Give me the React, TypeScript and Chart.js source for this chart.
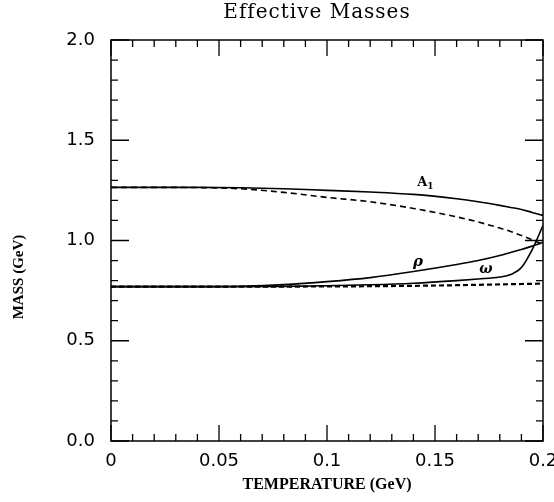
import React, { useEffect, useRef } from "react";
import { Chart, registerables } from "chart.js";

Chart.register(...registerables);

const temperature = [0, 0.02, 0.04, 0.06, 0.08, 0.1, 0.12, 0.14, 0.16, 0.17, 0.18, 0.185, 0.19, 0.195, 0.2];
const a1Solid = [1.265, 1.265, 1.265, 1.263, 1.258, 1.25, 1.242, 1.23, 1.208, 1.193, 1.175, 1.165, 1.155, 1.14, 1.125];
const a1Dashed = [1.265, 1.265, 1.264, 1.258, 1.24, 1.215, 1.193, 1.16, 1.118, 1.092, 1.062, 1.045, 1.025, 1.003, 0.98];
const rhoSolid = [0.77, 0.77, 0.77, 0.772, 0.78, 0.795, 0.815, 0.845, 0.88, 0.9, 0.925, 0.94, 0.955, 0.972, 0.99];
const omegaSolid = [0.77, 0.77, 0.77, 0.77, 0.771, 0.774, 0.779, 0.787, 0.8, 0.808, 0.818, 0.83, 0.865, 0.955, 1.075];
const lowDashed = [0.77, 0.77, 0.77, 0.77, 0.77, 0.771, 0.772, 0.774, 0.777, 0.779, 0.781, 0.782, 0.783, 0.784, 0.785];

const xTicks = [0, 0.05, 0.1, 0.15, 0.2];
const yTicks = [0, 0.5, 1.0, 1.5, 2.0];

const curveLabels = [
  { text: "A", sub: "1", x: 0.1418, y: 1.27, font: "bold 13px 'DejaVu Serif'" },
  { text: "ρ", sub: "", x: 0.1398, y: 0.875, font: "italic bold 15px 'DejaVu Serif'" },
  { text: "ω", sub: "", x: 0.1705, y: 0.84, font: "italic bold 14px 'DejaVu Serif'" },
];

const toPoints = (ys: number[]) => temperature.map((t, i) => ({ x: t, y: ys[i] }));

const framePlugin = {
  id: "frameTicks",
  afterDraw(chart: any) {
    const { ctx, chartArea: a, scales } = chart;
    const xs = scales.x;
    const ys = scales.y;
    ctx.save();
    ctx.strokeStyle = "#000";
    ctx.lineWidth = 1.5;
    ctx.strokeRect(a.left, a.top, a.right - a.left, a.bottom - a.top);
    ctx.lineWidth = 1.3;
    ctx.beginPath();
    for (let i = 0; i <= 20; i++) {
      const v = i * 0.01;
      const px = xs.getPixelForValue(v);
      const len = i % 5 === 0 ? 16 : 7;
      ctx.moveTo(px, a.bottom);
      ctx.lineTo(px, a.bottom - len);
      ctx.moveTo(px, a.top);
      ctx.lineTo(px, a.top + len);
    }
    for (let i = 0; i <= 20; i++) {
      const v = i * 0.1;
      const py = ys.getPixelForValue(v);
      const len = i % 5 === 0 ? 18 : 7;
      ctx.moveTo(a.left, py);
      ctx.lineTo(a.left + len, py);
      ctx.moveTo(a.right, py);
      ctx.lineTo(a.right - len, py);
    }
    ctx.stroke();

    // title
    ctx.fillStyle = "#000";
    ctx.font = "20px 'DejaVu Serif'";
    ctx.textAlign = "center";
    ctx.textBaseline = "middle";
    (ctx as any).letterSpacing = "1px";
    ctx.fillText("Effective Masses", 317, 13);
    (ctx as any).letterSpacing = "0px";

    // y axis title
    ctx.save();
    ctx.translate(19, 277);
    ctx.rotate(-Math.PI / 2);
    ctx.font = "bold 15px 'Liberation Serif'";
    ctx.fillText("MASS (GeV)", 0, 0);
    ctx.restore();

    // x axis title
    ctx.font = "bold 16px 'Liberation Serif'";
    ctx.fillText("TEMPERATURE (GeV)", (a.left + a.right) / 2, 485);

    // curve labels
    ctx.textAlign = "left";
    ctx.textBaseline = "alphabetic";
    for (const l of curveLabels) {
      const px = xs.getPixelForValue(l.x);
      const py = ys.getPixelForValue(l.y);
      ctx.font = l.font;
      ctx.fillText(l.text, px, py);
      if (l.sub) {
        const w = ctx.measureText(l.text).width;
        ctx.font = "bold 9px 'DejaVu Serif'";
        ctx.fillText(l.sub, px + w, py + 3);
      }
    }
    ctx.restore();
  },
};

export default function App() {
  const ref = useRef<HTMLCanvasElement | null>(null);
  useEffect(() => {
    if (!ref.current) return;
    const base = {
      borderColor: "#000",
      borderWidth: 1.6,
      pointRadius: 0,
      fill: false,
      cubicInterpolationMode: "monotone" as const,
    };
    const chart = new Chart(ref.current, {
      type: "line",
      data: {
        datasets: [
          { ...base, label: "A1", data: toPoints(a1Solid) },
          { ...base, label: "A1 dashed", data: toPoints(a1Dashed), borderDash: [6, 4] },
          { ...base, label: "rho", data: toPoints(rhoSolid) },
          { ...base, label: "omega", data: toPoints(omegaSolid) },
          { ...base, label: "low dashed", data: toPoints(lowDashed), borderDash: [5, 3], borderWidth: 2.2 },
        ],
      },
      options: {
        responsive: false,
        animation: false,
        devicePixelRatio: 1,
        layout: { padding: { top: 40, right: 11, left: 0, bottom: 0 } },
        plugins: { legend: { display: false }, tooltip: { enabled: false }, title: { display: false } },
        scales: {
          x: {
            type: "linear",
            min: 0,
            max: 0.2,
            afterBuildTicks: (s: any) => {
              s.ticks = xTicks.map((v) => ({ value: v }));
            },
            ticks: {
              color: "#000",
              font: { family: "'DejaVu Sans'", size: 18 },
              padding: 10,
              maxRotation: 0,
              autoSkip: false,
              callback: (v: any) => String(Number(Number(v).toFixed(2))),
            },
            grid: { display: false, drawTicks: false },
            border: { display: false },
            afterFit: (s: any) => {
              s.height = 61;
              s.paddingRight = 0;
              s.paddingLeft = 0;
            },
          },
          y: {
            type: "linear",
            min: 0,
            max: 2,
            afterBuildTicks: (s: any) => {
              s.ticks = yTicks.map((v) => ({ value: v }));
            },
            ticks: {
              color: "#000",
              font: { family: "'DejaVu Sans'", size: 18 },
              padding: 16,
              autoSkip: false,
              callback: (v: any) => Number(v).toFixed(1),
            },
            grid: { display: false, drawTicks: false },
            border: { display: false },
            afterFit: (s: any) => {
              s.width = 111;
              s.paddingTop = 0;
              s.paddingBottom = 0;
            },
          },
        },
      },
      plugins: [framePlugin],
    });
    return () => chart.destroy();
  }, []);
  return (
    <div style={{ position: "absolute", left: 0, top: 0, width: 554, height: 502, background: "#fff" }}>
      <canvas ref={ref} width={554} height={502} />
    </div>
  );
}
